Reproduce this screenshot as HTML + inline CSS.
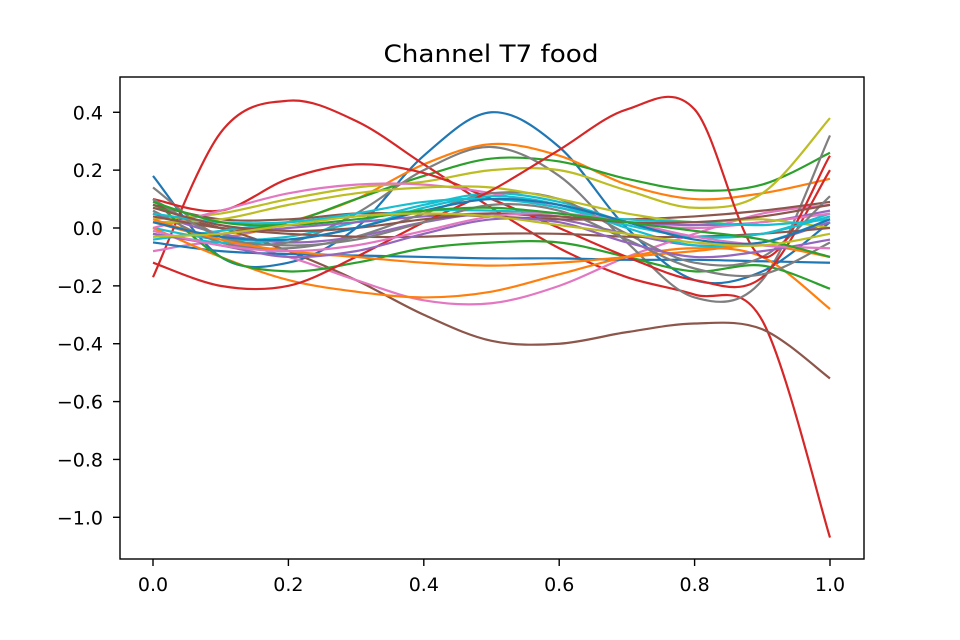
<!DOCTYPE html>
<html>
<head>
<meta charset="utf-8">
<style>
  html,body{margin:0;padding:0;background:#fff;}
  svg{display:block;font-family:"DejaVu Sans","Liberation Sans",sans-serif;}
</style>
</head>
<body>
<svg id="chart" width="960" height="640" viewBox="0 0 960 640" xmlns="http://www.w3.org/2000/svg">
  <rect width="960" height="640" fill="#fff"/>
  <text x="491" y="62" text-anchor="middle" font-size="24" textLength="215" lengthAdjust="spacingAndGlyphs" fill="#000">Channel T7 food</text>
  <g id="plot"></g>
  <g id="axes"></g>
</svg>
<script>
const xTicks = [0.0, 0.2, 0.4, 0.6, 0.8, 1.0];
const xTickLabels = ["0.0", "0.2", "0.4", "0.6", "0.8", "1.0"];
const yTicks = [0.4, 0.2, 0.0, -0.2, -0.4, -0.6, -0.8, -1.0];
const yTickLabels = ["0.4", "0.2", "0.0", "\u22120.2", "\u22120.4", "\u22120.6", "\u22120.8", "\u22121.0"];
const sampleX = [0, 0.1, 0.2, 0.3, 0.4, 0.5, 0.6, 0.7, 0.8, 0.9, 1.0];
const seriesColors = ["#1f77b4","#ff7f0e","#2ca02c","#d62728","#9467bd","#8c564b","#e377c2","#7f7f7f","#bcbd22","#17becf",
  "#1f77b4","#ff7f0e","#2ca02c","#d62728","#9467bd","#8c564b","#e377c2","#7f7f7f","#bcbd22","#17becf",
  "#d62728","#8c564b","#ff7f0e","#17becf","#7f7f7f","#9467bd","#17becf","#8c564b","#e377c2","#1f77b4","#2ca02c","#bcbd22"];
const seriesValues = [
  [0.18,-0.10,-0.12,0.00,0.25,0.40,0.28,0.00,-0.18,-0.15,0.02],
  [0.02,-0.03,0.02,0.10,0.22,0.29,0.25,0.15,0.10,0.12,0.17],
  [0.08,0.00,0.02,0.10,0.18,0.24,0.23,0.17,0.13,0.15,0.26],
  [-0.17,0.33,0.44,0.37,0.22,0.07,-0.07,-0.17,-0.23,-0.32,-1.07],
  [0.05,-0.02,-0.05,-0.03,0.02,0.05,0.03,-0.02,-0.06,-0.05,0.02],
  [0.05,0.00,-0.08,-0.18,-0.30,-0.39,-0.40,-0.36,-0.33,-0.35,-0.52],
  [-0.08,-0.05,-0.10,-0.18,-0.25,-0.26,-0.20,-0.10,-0.02,0.05,0.08],
  [0.14,-0.03,-0.05,0.05,0.20,0.28,0.18,-0.05,-0.24,-0.18,0.32],
  [0.03,0.05,0.10,0.14,0.16,0.20,0.20,0.13,0.07,0.12,0.38],
  [0.00,-0.04,-0.03,0.02,0.08,0.12,0.09,0.02,-0.03,-0.02,0.05],
  [-0.05,-0.08,-0.09,-0.095,-0.10,-0.105,-0.105,-0.11,-0.11,-0.115,-0.12],
  [0.00,-0.10,-0.18,-0.22,-0.24,-0.22,-0.16,-0.10,-0.07,-0.10,-0.28],
  [0.10,-0.10,-0.15,-0.12,-0.07,-0.05,-0.05,-0.10,-0.15,-0.13,-0.21],
  [0.10,0.06,0.17,0.22,0.19,0.10,0.00,-0.10,-0.18,-0.17,0.20],
  [-0.03,-0.02,0.00,0.02,0.04,0.05,0.04,0.02,0.01,0.02,0.06],
  [0.08,0.03,0.03,0.05,0.05,0.04,0.03,0.03,0.04,0.06,0.09],
  [0.00,0.06,0.12,0.15,0.15,0.12,0.07,0.02,0.00,0.02,0.05],
  [0.06,-0.05,-0.07,-0.03,0.05,0.12,0.10,-0.02,-0.12,-0.10,0.11],
  [0.02,0.03,0.08,0.12,0.14,0.14,0.10,0.05,0.02,0.03,0.00],
  [-0.02,-0.05,-0.04,0.00,0.07,0.11,0.08,0.00,-0.06,-0.05,0.03],
  [-0.12,-0.20,-0.20,-0.10,0.02,0.13,0.27,0.41,0.41,-0.10,0.25],
  [0.04,0.00,-0.02,-0.03,-0.03,-0.02,-0.02,-0.03,-0.03,-0.02,0.00],
  [0.03,-0.04,-0.08,-0.10,-0.12,-0.13,-0.12,-0.10,-0.08,-0.06,-0.10],
  [-0.04,-0.01,0.02,0.04,0.06,0.06,0.05,0.03,0.02,0.01,0.03],
  [0.10,-0.03,-0.06,-0.04,0.02,0.08,0.06,-0.04,-0.14,-0.16,-0.05],
  [-0.02,-0.06,-0.10,-0.08,-0.02,0.03,0.02,-0.05,-0.10,-0.08,-0.04],
  [0.05,0.02,0.02,0.05,0.09,0.10,0.07,0.01,-0.03,-0.02,0.04],
  [0.07,0.01,-0.01,0.00,0.03,0.05,0.04,0.02,0.02,0.04,0.08],
  [-0.01,-0.06,-0.08,-0.06,-0.01,0.04,0.05,0.02,-0.03,-0.06,-0.07],
  [0.02,-0.03,-0.04,0.00,0.06,0.10,0.08,0.02,-0.04,-0.05,0.03],
  [0.09,0.02,0.01,0.03,0.06,0.07,0.05,0.02,-0.01,-0.04,-0.10],
  [-0.03,-0.02,0.01,0.04,0.05,0.04,0.01,-0.02,-0.05,-0.06,-0.02]
];

const X0 = 153, X1 = 830, Y0px = 228, YperUnit = 289.3;
function xScale(v){ return X0 + (X1 - X0) * v; }
function yScale(v){ return Y0px - YperUnit * v; }
const NS = "http://www.w3.org/2000/svg";
const plot = document.getElementById('plot');
const axes = document.getElementById('axes');

function smoothPath(pts){
  let d = "M" + pts[0][0].toFixed(2) + "," + pts[0][1].toFixed(2);
  for (let i = 0; i < pts.length - 1; i++){
    const p0 = pts[Math.max(0, i-1)], p1 = pts[i], p2 = pts[i+1], p3 = pts[Math.min(pts.length-1, i+2)];
    const c1x = p1[0] + (p2[0]-p0[0])/6, c1y = p1[1] + (p2[1]-p0[1])/6;
    const c2x = p2[0] - (p3[0]-p1[0])/6, c2y = p2[1] - (p3[1]-p1[1])/6;
    d += " C" + c1x.toFixed(2)+","+c1y.toFixed(2)+" "+c2x.toFixed(2)+","+c2y.toFixed(2)+" "+p2[0].toFixed(2)+","+p2[1].toFixed(2);
  }
  return d;
}

seriesValues.forEach((vals, i) => {
  const pts = vals.map((v, j) => [xScale(sampleX[j]), yScale(v)]);
  const p = document.createElementNS(NS, 'path');
  p.setAttribute('d', smoothPath(pts));
  p.setAttribute('fill', 'none');
  p.setAttribute('stroke', seriesColors[i % seriesColors.length]);
  p.setAttribute('stroke-width', '2.2');
  
  
  plot.appendChild(p);
});

const frame = document.createElementNS(NS, 'rect');
frame.setAttribute('x', 120); frame.setAttribute('y', 77);
frame.setAttribute('width', 744); frame.setAttribute('height', 482);
frame.setAttribute('fill', 'none'); frame.setAttribute('stroke', '#000'); frame.setAttribute('stroke-width', '1.4');


axes.appendChild(frame);

xTicks.forEach((t, i) => {
  const x = xScale(t);
  const l = document.createElementNS(NS, 'line');
  l.setAttribute('x1', x); l.setAttribute('x2', x); l.setAttribute('y1', 559); l.setAttribute('y2', 566);
  l.setAttribute('stroke', '#000'); l.setAttribute('stroke-width', '1.4');
  
  
  axes.appendChild(l);
  const tx = document.createElementNS(NS, 'text');
  tx.setAttribute('x', x); tx.setAttribute('y', 591); tx.setAttribute('text-anchor', 'middle');
  tx.setAttribute('font-size', '19'); tx.textContent = xTickLabels[i];
  
  
  axes.appendChild(tx);
});
yTicks.forEach((t, i) => {
  const y = yScale(t);
  const l = document.createElementNS(NS, 'line');
  l.setAttribute('x1', 113); l.setAttribute('x2', 120); l.setAttribute('y1', y); l.setAttribute('y2', y);
  l.setAttribute('stroke', '#000'); l.setAttribute('stroke-width', '1.4');
  
  
  axes.appendChild(l);
  const tx = document.createElementNS(NS, 'text');
  tx.setAttribute('x', 103); tx.setAttribute('y', y + 7); tx.setAttribute('text-anchor', 'end');
  tx.setAttribute('font-size', '19'); tx.textContent = yTickLabels[i];
  
  
  axes.appendChild(tx);
});
</script>
</body>
</html>
